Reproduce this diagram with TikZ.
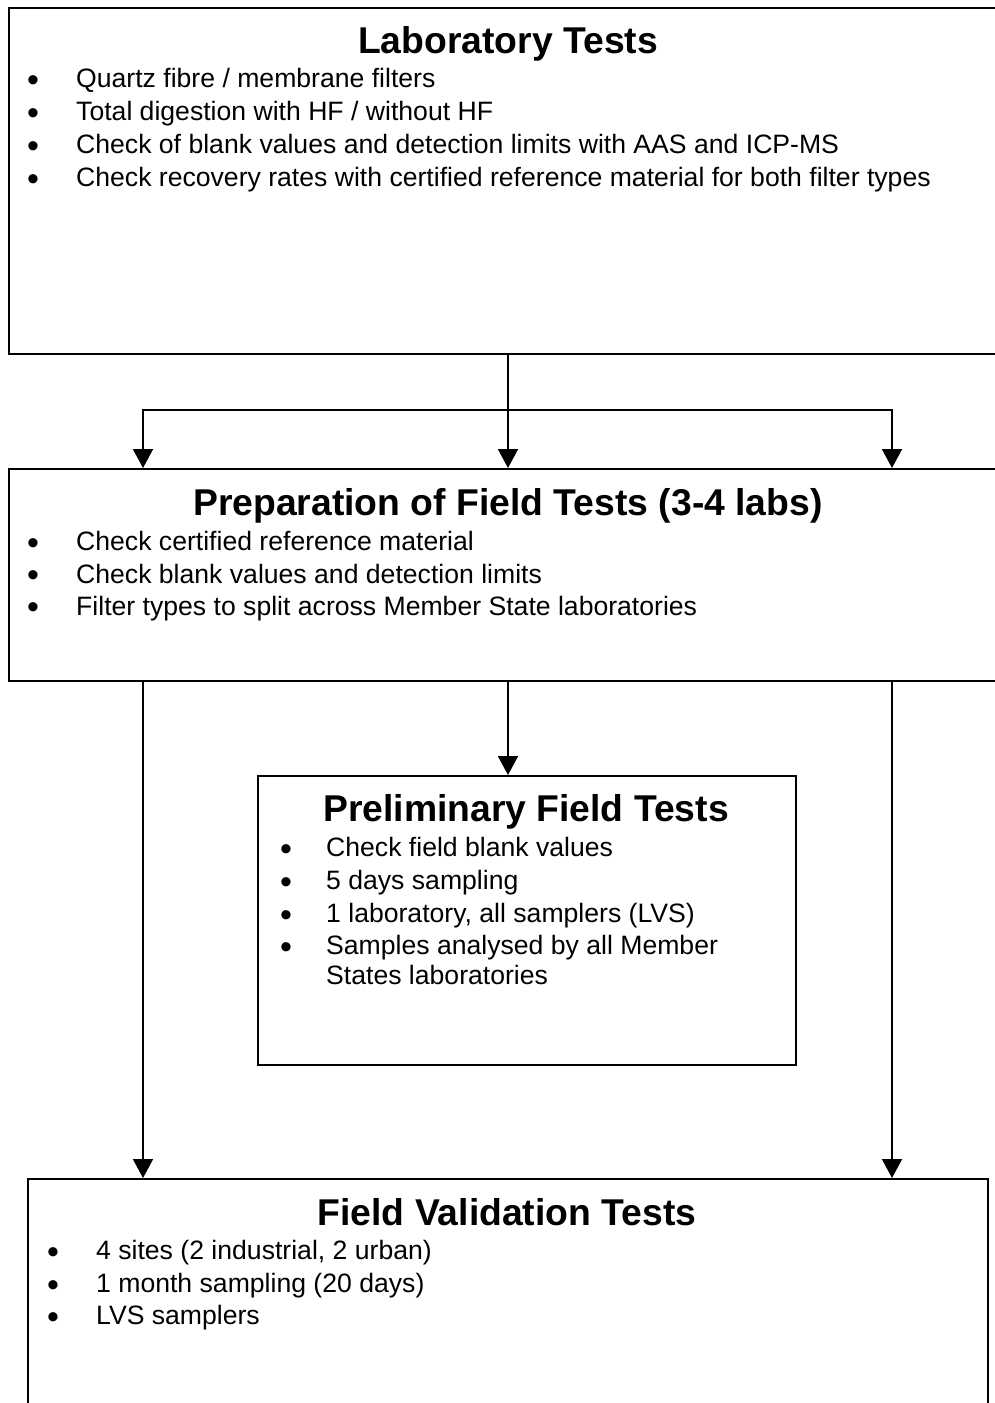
\documentclass[tikz,border=0pt]{standalone}
\usepackage{fontspec}
\setmainfont{Liberation Sans}
\usetikzlibrary{arrows.meta}
\begin{document}
\begin{tikzpicture}[x=1pt,y=-1pt,
 box/.style={draw, line width=2pt, rectangle, anchor=north west, inner sep=0pt},
 ttl/.style={anchor=base, inner sep=0pt, font=\bfseries\fontsize{37.3}{40}\selectfont},
 itm/.style={anchor=base west, inner sep=0pt, font=\fontsize{26.6}{30}\selectfont},
 bul/.style={anchor=base, inner sep=0pt, yshift=-3.5pt, font=\fontsize{34}{36}\selectfont},
 conn/.style={line width=2pt},
 arr/.style={line width=2pt, -{Triangle[width=20pt,length=19pt]}}]
\clip (0,0) rectangle (995,1403);
\fill[white] (0,0) rectangle (995,1403);
% boxes
\node[box, minimum width=1010pt, minimum height=346pt] (lab) at (8,7) {};
\node[box, minimum width=1010pt, minimum height=212pt] (prep) at (8,468) {};
\node[box, minimum width=538pt, minimum height=289pt] (prel) at (257,775) {};
\node[box, minimum width=960pt, minimum height=420pt] (fval) at (27,1178) {};
% box 1
\node[ttl] (t1) at (508,53) {Laboratory Tests};
\node[bul] (b11) at (33,87.5) {•};
\node[itm] (i11) at (76,87.5) {Quartz fibre / membrane filters};
\node[bul] (b12) at (33,120.5) {•};
\node[itm] (i12) at (76,120.5) {Total digestion with HF / without HF};
\node[bul] (b13) at (33,153.5) {•};
\node[itm] (i13) at (76,153.5) {Check of blank values and detection limits with AAS and ICP-MS};
\node[bul] (b14) at (33,186.5) {•};
\node[itm] (i14) at (76,186.5) {Check recovery rates with certified reference material for both filter types};
% box 2
\node[ttl] (t2) at (508,515) {Preparation of Field Tests (3-4 labs)};
\node[bul] (b21) at (33,550.5) {•};
\node[itm] (i21) at (76,550.5) {Check certified reference material};
\node[bul] (b22) at (33,583) {•};
\node[itm] (i22) at (76,583) {Check blank values and detection limits};
\node[bul] (b23) at (33,615) {•};
\node[itm] (i23) at (76,615) {Filter types to split across Member State laboratories};
% box 3
\node[ttl] (t3) at (526,821) {Preliminary Field Tests};
\node[bul] (b31) at (286,856.5) {•};
\node[itm] (i31) at (326,856.5) {Check field blank values};
\node[bul] (b32) at (286,889.5) {•};
\node[itm] (i32) at (326,889.5) {5 days sampling};
\node[bul] (b33) at (286,922.5) {•};
\node[itm] (i33) at (326,922.5) {1 laboratory, all samplers (LVS)};
\node[bul] (b34) at (286,954.5) {•};
\node[itm] (i34) at (326,954.5) {Samples analysed by all Member};
\node[itm] (i35) at (326,984.5) {States laboratories};
% box 4
\node[ttl] (t4) at (507,1225) {Field Validation Tests};
\node[bul] (b41) at (53,1259.5) {•};
\node[itm] (i41) at (96,1259.5) {4 sites (2 industrial, 2 urban)};
\node[bul] (b42) at (53,1292.5) {•};
\node[itm] (i42) at (96,1292.5) {1 month sampling (20 days)};
\node[bul] (b43) at (53,1324.5) {•};
\node[itm] (i43) at (96,1324.5) {LVS samplers};
% connectors
\coordinate (j) at (508,410);
\coordinate (jl) at (143,410);
\coordinate (jr) at (892,410);
\draw[conn] (j |- lab.south) -- (j);
\draw[arr] (j) -| (jl |- prep.north);
\draw[arr] (j) -| (jr |- prep.north);
\draw[arr] (j) -- (j |- prep.north);
\draw[arr] (jl |- prep.south) -- (jl |- fval.north);
\draw[arr] (j |- prep.south) -- (j |- prel.north);
\draw[arr] (jr |- prep.south) -- (jr |- fval.north);
\end{tikzpicture}
\end{document}
